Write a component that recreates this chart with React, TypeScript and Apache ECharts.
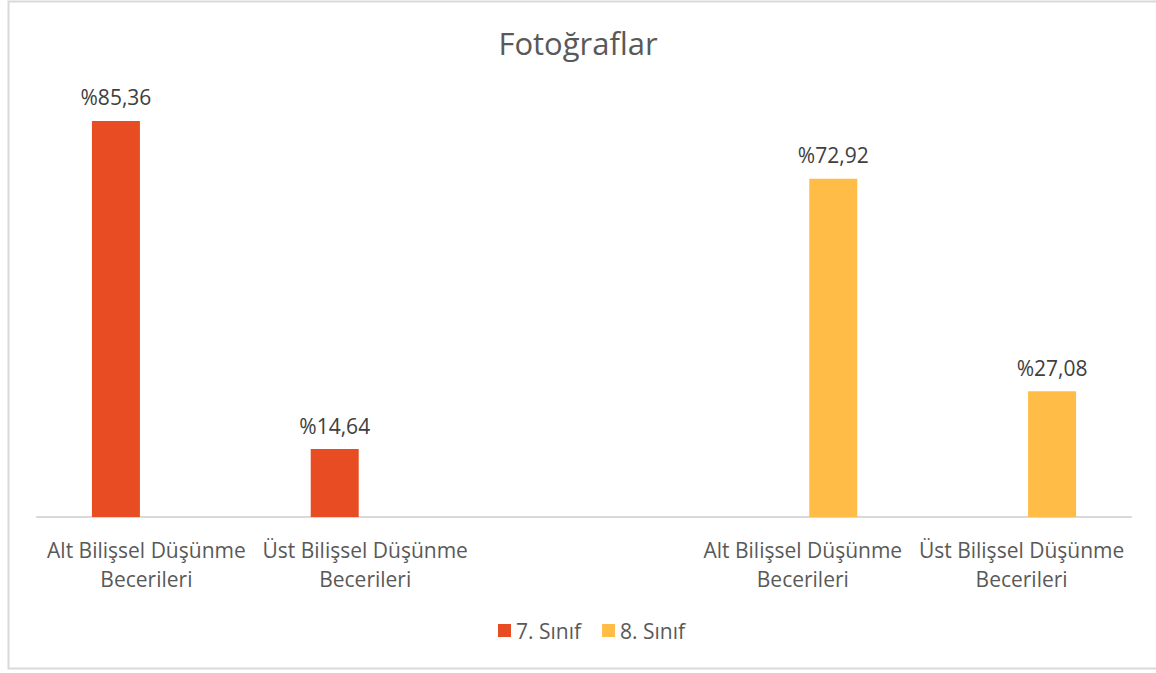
import React, { useEffect, useRef } from "react";
import * as echarts from "echarts";

const categories = [
  "Alt Bilişsel Düşünme\nBecerileri",
  "Üst Bilişsel Düşünme\nBecerileri",
  "",
  "Alt Bilişsel Düşünme\nBecerileri",
  "Üst Bilişsel Düşünme\nBecerileri",
];
const seriesNames = ["7. Sınıf", "8. Sınıf"];
const values7 = [85.36, 14.64, null, null, null];
const values8 = [null, null, null, 72.92, 27.08];
const colors = ["#E84C22", "#FFBD47"];

const FONT = "'Open Sans', 'Noto Sans', sans-serif";

export default function App() {
  const ref = useRef<HTMLDivElement>(null);
  useEffect(() => {
    if (!ref.current) return;
    const chart = echarts.init(ref.current, undefined, { renderer: "svg" });
    const fmt = (p: any) =>
      p.value == null ? "" : "%" + Number(p.value).toFixed(2).replace(".", ",");
    const mk = (name: string, data: (number | null)[], color: string) => ({
      name,
      type: "bar",
      data,
      barWidth: 48,
      barGap: "27%",
      itemStyle: { color },
      label: {
        show: true,
        position: "top",
        distance: 13,
        formatter: fmt,
        color: "#404040",
        fontSize: 21,
        fontFamily: FONT,
      },
    });
    chart.setOption({
      animation: false,
      backgroundColor: "#fff",
      title: {
        text: "Fotoğraflar",
        left: "center",
        top: 22,
        textStyle: { color: "#595959", fontSize: 31, fontWeight: "normal", fontFamily: FONT },
      },
      graphic: [
        {
          type: "rect",
          shape: { x: 8.5, y: 1.5, width: 1160, height: 667 },
          style: { fill: "none", stroke: "#D9D9D9", lineWidth: 2 },
          silent: true,
        },
      ],
      legend: {
        data: seriesNames,
        bottom: 27,
        left: 493,
        itemWidth: 13,
        itemHeight: 13,
        itemGap: 21,
        icon: "rect",
        textStyle: { color: "#595959", fontSize: 21, fontFamily: FONT },
      },
      grid: { left: 37, right: 25, top: 53, bottom: 156, containLabel: false },
      xAxis: {
        type: "category",
        data: categories,
        axisLine: { lineStyle: { color: "#D9D9D9", width: 2 } },
        axisTick: { show: false },
        axisLabel: {
          interval: 0,
          color: "#595959",
          fontSize: 21,
          lineHeight: 29,
          margin: 18,
          fontFamily: FONT,
        },
      },
      yAxis: { type: "value", min: 0, max: 100, show: false },
      series: [mk(seriesNames[0], values7, colors[0]), mk(seriesNames[1], values8, colors[1])],
    });
    return () => chart.dispose();
  }, []);
  return (
    <div
      ref={ref}
      style={{ position: "absolute", left: 0, top: 0, width: 1156, height: 673 }}
    />
  );
}
